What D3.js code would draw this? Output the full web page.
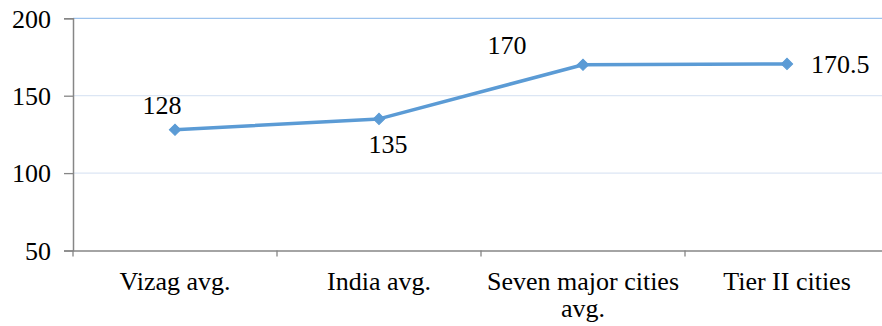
<!DOCTYPE html>
<html><head><meta charset="utf-8">
<script src="https://cdn.jsdelivr.net/npm/d3@7"></script>
<style>body{margin:0;background:#fff}svg{display:block}text{font-family:"Liberation Serif","Times New Roman",serif;fill:#000}</style>
</head><body>
<svg id="c" width="882" height="326" font-family="Liberation Serif, serif"></svg>
<script>
const categories = ["Vizag avg.", "India avg.", "Seven major cities avg.", "Tier II cities"];
const values = [128, 135, 170, 170.5];
const labels = ["128", "135", "170", "170.5"];
const yTicks = [50, 100, 150, 200];

const svg = d3.select("#c");
const plotL = 73, plotR = 889, plotT = 18.3, plotB = 250.5;
const x = d3.scaleBand().domain(categories).range([plotL, plotR]).padding(0);
const y = d3.scaleLinear().domain([50, 200]).range([plotB, plotT]);
const fs = 26;
const serif = '"Liberation Serif","Times New Roman",serif';

// gridlines
svg.append("g").selectAll("line").data(yTicks.filter(d => d > 50)).join("line")
  .attr("x1", plotL).attr("x2", plotR)
  .attr("y1", d => y(d)).attr("y2", d => y(d))
  .attr("stroke", d => d === 200 ? "#9DC3EE" : "#DCE6F4").attr("stroke-width", 1.3);

// y axis
const yAxis = svg.append("g").attr("transform", `translate(${plotL},0)`)
  .call(d3.axisLeft(y).tickValues(yTicks).tickSize(9).tickPadding(13).tickFormat(d3.format("d")));
yAxis.attr("font-family", null).attr("font-size", null);
yAxis.select(".domain").attr("stroke", "#868686").attr("stroke-width", 1.5);
yAxis.selectAll(".tick line").attr("stroke", "#868686").attr("stroke-width", 1.3);
yAxis.selectAll("text").style("font-size", fs + "px").style("font-family", serif).attr("fill", "#000").attr("dy", "0.34em");

// x axis
const xAxis = svg.append("g").attr("transform", `translate(0,${plotB})`)
  .call(d3.axisBottom(x).tickSize(0).tickFormat(""));
xAxis.select(".domain").attr("stroke", "#868686").attr("stroke-width", 1.5);
// boundary ticks
svg.append("g").selectAll("line").data(d3.range(categories.length + 1)).join("line")
  .attr("x1", i => plotL + i * x.bandwidth()).attr("x2", i => plotL + i * x.bandwidth())
  .attr("y1", plotB).attr("y2", plotB + 6)
  .attr("stroke", "#868686").attr("stroke-width", 1.3);

// category labels with wrapping
const wrapped = {"Seven major cities avg.": ["Seven major cities", "avg."]};
svg.append("g").selectAll("text").data(categories).join("text")
  .attr("x", d => x(d) + x.bandwidth() / 2).attr("y", 290)
  .attr("text-anchor", "middle").style("font-size", fs + "px").style("font-family", serif)
  .each(function(d) {
    const lines = wrapped[d] || [d];
    const t = d3.select(this);
    lines.forEach((l, i) => t.append("tspan").attr("x", x(d) + x.bandwidth() / 2).attr("dy", i === 0 ? 0 : 27).text(l));
  });

// line
const cx = d => x(d) + x.bandwidth() / 2;
const pts = categories.map((c, i) => [cx(c), y(values[i])]);
svg.append("path").attr("d", d3.line().curve(d3.curveLinear)(pts))
  .attr("fill", "none").attr("stroke", "#5B9BD5").attr("stroke-width", 3.5).attr("stroke-linejoin", "round");

// markers
svg.append("g").selectAll("path").data(pts).join("path")
  .attr("transform", p => `translate(${p[0]},${p[1]}) rotate(45)`)
  .attr("d", d3.symbol().type(d3.symbolSquare).size(64))
  .attr("fill", "#5B9BD5").attr("stroke", "#5B9BD5").attr("stroke-width", 1);

// data labels
const lblPos = [
  {dx: -13, dy: -16, anchor: "middle"},
  {dx: 9, dy: 34, anchor: "middle"},
  {dx: -76, dy: -11, anchor: "middle"},
  {dx: 24, dy: 9, anchor: "start"}
];
svg.append("g").selectAll("text").data(labels).join("text")
  .attr("x", (d, i) => pts[i][0] + lblPos[i].dx)
  .attr("y", (d, i) => pts[i][1] + lblPos[i].dy)
  .attr("text-anchor", (d, i) => lblPos[i].anchor)
  .style("font-size", fs + "px").style("font-family", serif).text(d => d);
</script>
</body></html>
